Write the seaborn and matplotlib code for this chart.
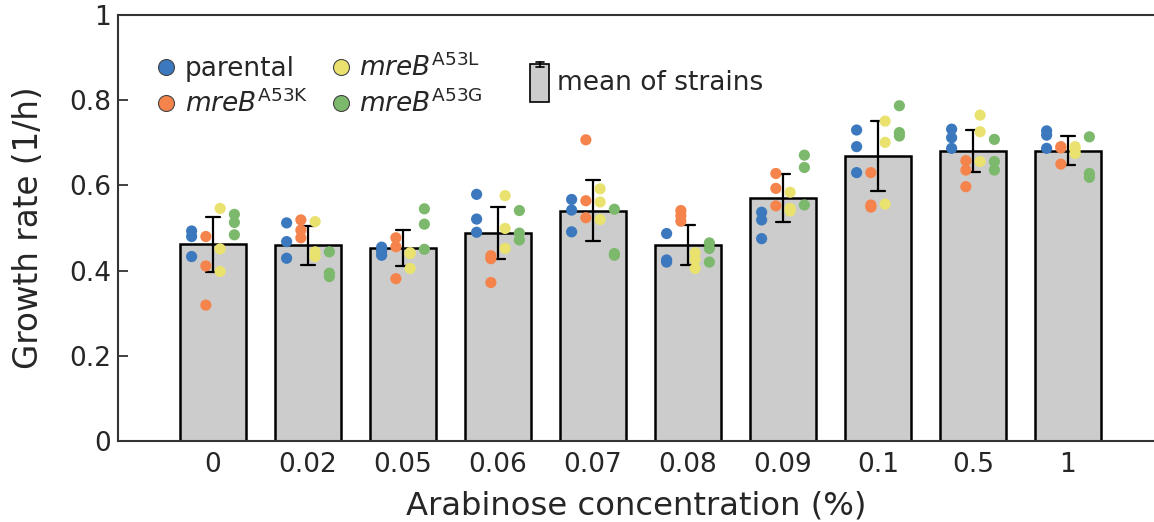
import numpy as np
import pandas as pd
import matplotlib
matplotlib.use("Agg")
import matplotlib.pyplot as plt
import seaborn as sns
from matplotlib.lines import Line2D
from matplotlib.patches import Rectangle, Patch
from matplotlib.legend_handler import HandlerBase

# ---------------- data ----------------
conc_labels = ["0", "0.02", "0.05", "0.06", "0.07", "0.08", "0.09", "0.1", "0.5", "1"]
strains = ["parental", "mreB A53K", "mreB A53L", "mreB A53G"]

parental = [
    [0.493, 0.480, 0.433], [0.512, 0.468, 0.429], [0.455, 0.445, 0.436],
    [0.579, 0.521, 0.490], [0.567, 0.542, 0.491], [0.487, 0.425, 0.420],
    [0.537, 0.519, 0.475], [0.730, 0.691, 0.630], [0.732, 0.712, 0.687],
    [0.728, 0.718, 0.687],
]
a53k = [
    [0.480, 0.411, 0.319], [0.519, 0.495, 0.477], [0.477, 0.456, 0.381],
    [0.435, 0.428, 0.372], [0.707, 0.564, 0.524], [0.541, 0.529, 0.516],
    [0.628, 0.593, 0.552], [0.630, 0.554, 0.549], [0.658, 0.636, 0.597],
    [0.691, 0.688, 0.650],
]
a53l = [
    [0.546, 0.451, 0.398], [0.515, 0.444, 0.433], [0.442, 0.440, 0.405],
    [0.576, 0.499, 0.452], [0.592, 0.561, 0.520], [0.442, 0.426, 0.405],
    [0.584, 0.546, 0.540], [0.751, 0.701, 0.556], [0.765, 0.726, 0.656],
    [0.691, 0.683, 0.675],
]
a53g = [
    [0.532, 0.513, 0.484], [0.444, 0.394, 0.386], [0.545, 0.509, 0.450],
    [0.541, 0.488, 0.472], [0.544, 0.440, 0.436], [0.465, 0.452, 0.420],
    [0.671, 0.642, 0.554], [0.787, 0.724, 0.716], [0.708, 0.656, 0.636],
    [0.714, 0.628, 0.619],
]
yticks = [0, 0.2, 0.4, 0.6, 0.8, 1]
ytick_labels = ["0", "0.2", "0.4", "0.6", "0.8", "1"]

# ---------------- style ----------------
colors = {"parental": "#3b78be", "mreB A53K": "#f5844c",
          "mreB A53L": "#e9e26e", "mreB A53G": "#7db96c"}
offsets = {"parental": -0.225, "mreB A53K": -0.075,
           "mreB A53L": 0.075, "mreB A53G": 0.225}
legend_labels = {"parental": "parental",
                 "mreB A53K": r"$\mathit{mreB}^{\mathrm{A53K}}$",
                 "mreB A53L": r"$\mathit{mreB}^{\mathrm{A53L}}$",
                 "mreB A53G": r"$\mathit{mreB}^{\mathrm{A53G}}$"}

sns.set_style("ticks")
plt.rcParams["font.family"] = ["DejaVu Sans"]
plt.rcParams["mathtext.fontset"] = "dejavusans"

rows = []
for strain, arr in zip(strains, [parental, a53k, a53l, a53g]):
    for i, c in enumerate(conc_labels):
        for v in arr[i]:
            rows.append({"conc": c, "idx": i, "strain": strain, "rate": v})
df = pd.DataFrame(rows)
df["xpos"] = df["idx"] + df["strain"].map(offsets)

fig = plt.figure(figsize=(11.54, 5.22), dpi=100)
ax = fig.add_axes([118 / 1154, 81 / 522, 1 - 118 / 1154, 426 / 522])

sns.barplot(data=df, x="conc", y="rate", order=conc_labels, errorbar="sd",
            color="#cccccc", saturation=1, edgecolor="black", linewidth=1.8,
            width=0.7, capsize=0.15,
            err_kws={"color": "black", "linewidth": 1.6, "zorder": 3}, ax=ax)
sns.scatterplot(data=df, x="xpos", y="rate", hue="strain", hue_order=strains,
                palette=colors, s=65, linewidth=0, edgecolor="none",
                legend=False, zorder=4, ax=ax)

ax.set_xlim(-1, (1154 - 213) / 95)
ax.set_ylim(0, 1)
ax.set_xticks(range(len(conc_labels)))
ax.set_xticklabels(conc_labels)
ax.set_yticks(yticks)
ax.set_yticklabels(ytick_labels)
ax.tick_params(axis="both", direction="in", length=7, width=1.3,
               color="#333333", labelsize=19, labelcolor="#262626")
ax.tick_params(axis="x", pad=8)
ax.tick_params(axis="y", pad=5)
for side in ["left", "bottom", "top"]:
    ax.spines[side].set_visible(True)
    ax.spines[side].set_color("#333333")
    ax.spines[side].set_linewidth(1.5)
ax.spines["right"].set_visible(False)

ax.set_xlabel("Arabinose concentration (%)", fontsize=23.2, labelpad=9)
ax.set_ylabel("Growth rate (1/h)", fontsize=23.5, labelpad=17)

# strain legend
handles = [Line2D([], [], linestyle="none", marker="o", markersize=11.5,
                  markerfacecolor=colors[s], markeredgecolor="#444444",
                  markeredgewidth=0.8) for s in strains]
leg1 = ax.legend(handles, [legend_labels[s] for s in strains], ncol=2,
                 loc="upper left", bbox_to_anchor=(0.035, 0.91), frameon=False,
                 fontsize=19, handlelength=0.9, handletextpad=0.25,
                 columnspacing=0.8, labelspacing=0.3, borderpad=0,
                 borderaxespad=0)
ax.add_artist(leg1)


class BarErrHandler(HandlerBase):
    def create_artists(self, legend, orig_handle, xdescent, ydescent,
                       width, height, fontsize, trans):
        x0, y0 = -xdescent, -ydescent
        top = y0 + height * 0.92
        rect = Rectangle((x0, y0), width, height * 0.92, facecolor="#cccccc",
                         edgecolor="black", linewidth=1.2, transform=trans)
        cx = x0 + width / 2
        d = height * 0.06
        cw = width * 0.2
        v = Line2D([cx, cx], [top - d, top + d], color="black", lw=1.2,
                   transform=trans)
        c1 = Line2D([cx - cw, cx + cw], [top + d, top + d], color="black",
                    lw=1.2, transform=trans)
        c2 = Line2D([cx - cw, cx + cw], [top - d, top - d], color="black",
                    lw=1.2, transform=trans)
        return [rect, v, c1, c2]


bar_handle = Patch(facecolor="#cccccc", edgecolor="black")
ax.legend([bar_handle], ["mean of strains"], loc="upper left",
          bbox_to_anchor=(0.398, 0.892), frameon=False, fontsize=19,
          handlelength=0.72, handleheight=2.0, handletextpad=0.3,
          borderpad=0, borderaxespad=0,
          handler_map={Patch: BarErrHandler()})

fig.savefig("out.png", dpi=100)
